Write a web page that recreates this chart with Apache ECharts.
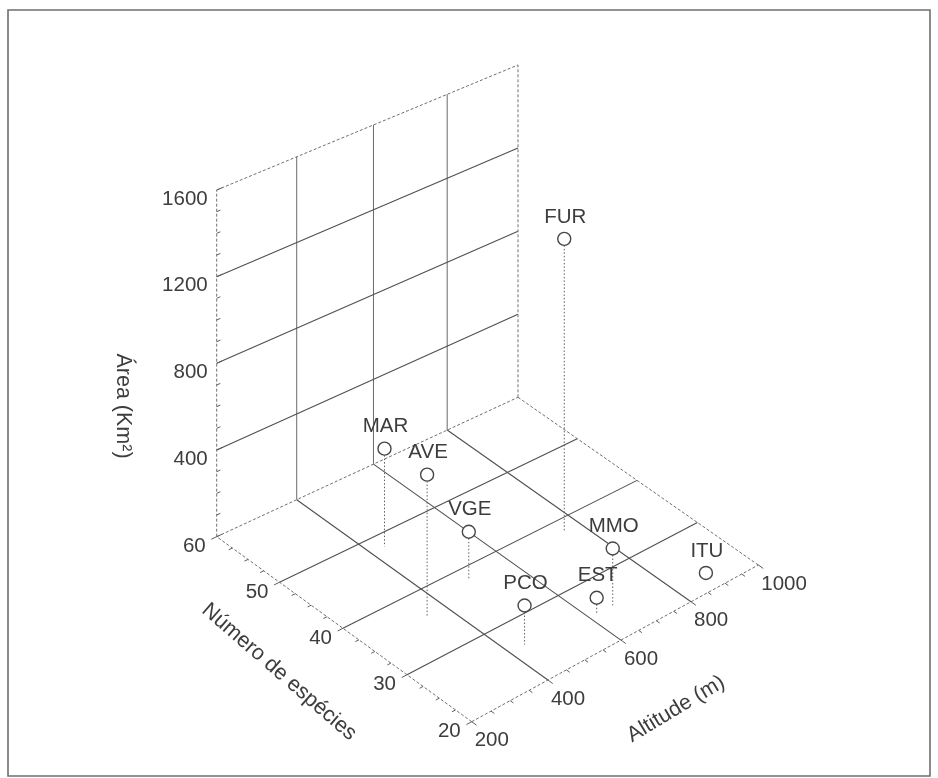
<!DOCTYPE html>
<html>
<head>
<meta charset="utf-8">
<script src="https://cdn.jsdelivr.net/npm/echarts@6/dist/echarts.min.js"></script>
<style>
  html, body { margin: 0; padding: 0; background: #ffffff; }
  #chart { width: 938px; height: 778px; }
</style>
</head>
<body>
<div id="chart"></div>
<script>
// ---- Sampling sites -------------------------------------------------------
const sites    = ['FUR', 'MAR', 'AVE', 'VGE', 'PCO', 'EST', 'MMO', 'ITU'];
const species  = [38, 48, 36, 38, 26, 25, 25, 22];          // Número de espécies
const altitude = [755, 435, 350, 493, 440, 620, 665, 880];  // Altitude (m)
const area     = [1380, 455, 655, 225, 180, 75, 265, 25];   // Área (Km²)

// ---- Axis ticks -----------------------------------------------------------
const speciesTicks  = [20, 30, 40, 50, 60];
const altitudeTicks = [200, 400, 600, 800, 1000];
const areaTicks     = [400, 800, 1200, 1600];

const sppMin = 20, sppMax = 60, sppMinor = 2.5;
const altMin = 200, altMax = 1000, altMinor = 50;
const areaMin = 0, areaMax = 1600, areaMinor = 100;

// ---- Box layout (view-plane units, mapped to pixels by the cartesian grid) --
const box = {
  front: [471.7, 721.7],  // fewest species, lowest altitude
  right: [758.3, 565.0],  // fewest species, highest altitude
  back:  [518.0, 397.3],  // most species, highest altitude
  left:  [216.7, 536.7],  // most species, lowest altitude
  height: 346.7,          // wall height above the left corner
  depthU: 0.044,          // vertical foreshortening along altitude
  depthV: 0.017           // vertical foreshortening along species
};

const FONT = '"Liberation Sans", Arial, Helvetica, sans-serif';
const TEXT = '#3d3d3d';
const LABEL_SIZE = 20.5;
const TITLE_SIZE = 21.5;

// Perspective floor: unit square (u = altitude, v = species) -> quad
function makeFloor(b) {
  const [x0, y0] = b.front, [x1, y1] = b.right, [x2, y2] = b.back, [x3, y3] = b.left;
  const sx = x0 - x1 + x2 - x3, sy = y0 - y1 + y2 - y3;
  const dx1 = x1 - x2, dx2 = x3 - x2, dy1 = y1 - y2, dy2 = y3 - y2;
  const den = dx1 * dy2 - dx2 * dy1;
  const g = (sx * dy2 - dx2 * sy) / den;
  const h = (dx1 * sy - sx * dy1) / den;
  const a = x1 - x0 + g * x1, bb = x3 - x0 + h * x3, c = x0;
  const d = y1 - y0 + g * y1, e = y3 - y0 + h * y3, f = y0;
  return function (u, v) {
    const w = g * u + h * v + 1;
    return [(a * u + bb * v + c) / w, (d * u + e * v + f) / w];
  };
}
const floorMap = makeFloor(box);

function project(spp, alt, ar) {
  const u = (alt - altMin) / (altMax - altMin);
  const v = (spp - sppMin) / (sppMax - sppMin);
  const w = (ar - areaMin) / (areaMax - areaMin);
  const p = floorMap(u, v);
  const k = (1 + box.depthV) / (1 + box.depthU * u + box.depthV * v);
  return [p[0], p[1] - w * box.height * k];
}

function seg(p, q, style) {
  return { type: 'line', silent: true,
    shape: { x1: p[0], y1: p[1], x2: q[0], y2: q[1] }, style: style };
}
function txt(x, y, text, opt) {
  opt = opt || {};
  return { type: 'text', silent: true, x: x, y: y, rotation: opt.rotation || 0,
    style: { text: text, fill: TEXT, fontFamily: FONT, fontSize: opt.size || LABEL_SIZE,
      align: opt.align || 'center', verticalAlign: opt.valign || 'middle' } };
}
function toward(p, q, len) {
  const dx = q[0] - p[0], dy = q[1] - p[1], n = Math.hypot(dx, dy) || 1;
  return [p[0] + dx / n * len, p[1] + dy / n * len];
}

// ---- Box: walls, floor grid, edges, ticks, labels, titles -----------------
function renderBox(params, api) {
  const P = (s, a, z) => api.coord(project(s, a, z));
  const out = [];
  const gridStyle = { stroke: '#4f4f4f', lineWidth: 1.1 };
  const wallStyle = { stroke: '#6a6a6a', lineWidth: 1 };
  const edgeStyle = { stroke: '#707070', lineWidth: 1, lineDash: [3, 2] };

  // floor grid
  speciesTicks.filter(s => s > sppMin && s < sppMax).forEach(s =>
    out.push(seg(P(s, altMin, 0), P(s, altMax, 0), gridStyle)));
  altitudeTicks.filter(a => a > altMin && a < altMax).forEach(a =>
    out.push(seg(P(sppMin, a, 0), P(sppMax, a, 0), gridStyle)));

  // back wall grid
  altitudeTicks.filter(a => a > altMin && a < altMax).forEach(a =>
    out.push(seg(P(sppMax, a, 0), P(sppMax, a, areaMax), wallStyle)));
  areaTicks.filter(z => z > areaMin && z < areaMax).forEach(z =>
    out.push(seg(P(sppMax, altMin, z), P(sppMax, altMax, z), gridStyle)));

  // box edges
  [
    [[sppMin, altMin, 0], [sppMin, altMax, 0]],
    [[sppMin, altMin, 0], [sppMax, altMin, 0]],
    [[sppMax, altMin, 0], [sppMax, altMax, 0]],
    [[sppMin, altMax, 0], [sppMax, altMax, 0]],
    [[sppMax, altMin, 0], [sppMax, altMin, areaMax]],
    [[sppMax, altMax, 0], [sppMax, altMax, areaMax]],
    [[sppMax, altMin, areaMax], [sppMax, altMax, areaMax]]
  ].forEach(e => out.push(seg(P.apply(null, e[0]), P.apply(null, e[1]), edgeStyle)));

  const tickStyle = { stroke: '#5e5e5e', lineWidth: 1 };

  // species axis (front-left edge)
  for (let s = sppMin; s <= sppMax + 1e-9; s += sppMinor) {
    const major = speciesTicks.indexOf(s) >= 0;
    const p = P(s, altMin, 0);
    out.push(seg(p, toward(p, P(s, altMin - 100, 0), major ? 6 : 4), tickStyle));
  }
  speciesTicks.forEach(s => {
    const p = P(s, altMin, 0);
    out.push(txt(p[0] - 11, p[1] + 10, String(s), { align: 'right' }));
  });

  // altitude axis (front-right edge)
  for (let a = altMin; a <= altMax + 1e-9; a += altMinor) {
    const major = altitudeTicks.indexOf(a) >= 0;
    const p = P(sppMin, a, 0);
    out.push(seg(p, toward(p, P(sppMin - 5, a, 0), major ? 6 : 4), tickStyle));
  }
  altitudeTicks.forEach(a => {
    const p = P(sppMin, a, 0);
    out.push(txt(p[0] + 3, p[1] + 19, String(a), { align: 'left' }));
  });

  // area axis (vertical edge)
  for (let z = areaMin; z <= areaMax + 1e-9; z += areaMinor) {
    const major = z % 400 === 0;
    const p = P(sppMax, altMin, z);
    out.push(seg(p, toward(p, P(sppMax, altMin + 100, z), major ? 6 : 4), tickStyle));
  }
  areaTicks.forEach(z => {
    const p = P(sppMax, altMin, z);
    out.push(txt(p[0] - 9, p[1] + 9, String(z), { align: 'right' }));
  });

  // axis titles
  const tA = api.coord([123, 406]);
  out.push(txt(tA[0], tA[1], 'Área (Km²)', { rotation: -Math.PI / 2, size: TITLE_SIZE }));
  const tS = api.coord([279, 672]);
  out.push(txt(tS[0], tS[1], 'Número de espécies', { rotation: -41 * Math.PI / 180, size: TITLE_SIZE }));
  const tH = api.coord([676, 709]);
  out.push(txt(tH[0], tH[1], 'Altitude (m)', { rotation: 31 * Math.PI / 180, size: TITLE_SIZE }));

  // outer frame
  const f0 = api.coord([8, 10]), f1 = api.coord([930, 776]);
  out.push({ type: 'rect', silent: true,
    shape: { x: f0[0], y: f0[1], width: f1[0] - f0[0], height: f1[1] - f0[1] },
    style: { fill: 'none', stroke: '#6f6f6f', lineWidth: 1.6 } });

  return { type: 'group', children: out };
}

// ---- Sites: drop line, marker, label --------------------------------------
const R = 6.5;
function renderSite(params, api) {
  const i = params.dataIndex;
  const s = api.value(0), a = api.value(1), z = api.value(2);
  const c = api.coord(project(s, a, z));
  const base = api.coord(project(s, a, 0));
  const out = [];
  if (base[1] > c[1] + R) {
    out.push(seg([c[0], c[1] + R], base,
      { stroke: '#5f5f5f', lineWidth: 1, lineDash: [1.5, 2] }));
  }
  out.push({ type: 'circle', shape: { cx: c[0], cy: c[1], r: R },
    style: { fill: '#ffffff', stroke: '#474747', lineWidth: 1.4 } });
  out.push(txt(c[0] + 1, c[1] - 22, sites[i], {}));
  return { type: 'group', children: out };
}

const chart = echarts.init(document.getElementById('chart'), null, { renderer: 'canvas' });
chart.setOption({
  animation: false,
  backgroundColor: '#ffffff',
  grid: { left: 0, right: 0, top: 0, bottom: 0 },
  xAxis: { type: 'value', min: 0, max: 938, show: false },
  yAxis: { type: 'value', min: 0, max: 778, inverse: true, show: false },
  series: [
    {
      type: 'custom', name: 'box', silent: true, clip: false,
      coordinateSystem: 'cartesian2d',
      data: [[0, 0]],
      encode: { x: 0, y: 1 },
      renderItem: renderBox
    },
    {
      type: 'custom', name: 'sites', clip: false,
      coordinateSystem: 'cartesian2d',
      dimensions: ['species', 'altitude', 'area'],
      data: sites.map((n, i) => [species[i], altitude[i], area[i]]),
      encode: { x: 0, y: 1 },
      renderItem: renderSite
    }
  ]
});
</script>
</body>
</html>
